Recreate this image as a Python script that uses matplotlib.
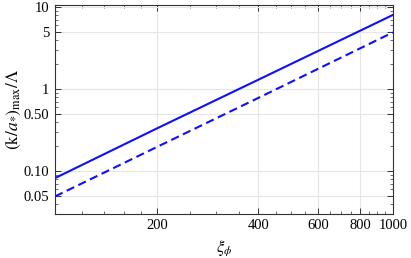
import matplotlib
matplotlib.use("Agg")
import matplotlib.pyplot as plt
from matplotlib.ticker import FixedLocator, FixedFormatter, LogLocator, NullFormatter

plt.rcParams['font.family'] = ['Liberation Serif', 'DejaVu Serif']
plt.rcParams['mathtext.fontset'] = 'stix'

# data
xi = [100, 200, 400, 1000]
k_solid = [0.082, 0.33, 1.3, 8.0]
k_dashed = [0.049, 0.196, 0.78, 4.9]

xticks = [200, 400, 600, 800, 1000]
yticks = [0.05, 0.1, 0.5, 1, 5, 10]
ylabels = ['0.05', '0.10', '0.50', '1', '5', '10']

fig = plt.figure(figsize=(4.11, 2.58), dpi=100)
ax = fig.add_axes([0.134, 0.171, 0.822, 0.81])

ax.plot(xi, k_solid, color='#0f0fff', lw=1.5)
ax.plot(xi, k_dashed, color='#0f0fff', lw=1.5, ls=(0, (4, 2.2)))

ax.set_xscale('log')
ax.set_yscale('log')
ax.set_xlim(100, 1000)
ax.set_ylim(0.03, 10.6)

ax.xaxis.set_major_locator(FixedLocator(xticks))
ax.xaxis.set_major_formatter(FixedFormatter([str(t) for t in xticks]))
ax.xaxis.set_minor_locator(FixedLocator([120, 140, 160, 180, 250, 300, 350, 450, 500, 550,
                                         650, 700, 750, 850, 900, 950]))
ax.xaxis.set_minor_formatter(NullFormatter())
ax.yaxis.set_major_locator(FixedLocator(yticks))
ax.yaxis.set_major_formatter(FixedFormatter(ylabels))
ax.yaxis.set_minor_locator(LogLocator(base=10, subs=[2, 3, 4, 6, 7, 8, 9]))
ax.yaxis.set_minor_formatter(NullFormatter())

ax.grid(True, which='major', color='#e6e6e6', lw=0.8)
ax.tick_params(which='both', direction='in', top=True, right=True, labelsize=10.5, colors='#333333',
               labelcolor='black', pad=4)
ax.tick_params(which='major', length=4, width=0.7)
ax.tick_params(which='minor', length=2, width=0.5)
for s in ax.spines.values():
    s.set_color('#333333')
    s.set_linewidth(0.8)

ax.set_xlabel(r'$\xi_\phi$', fontsize=12, labelpad=4)
ax.set_ylabel(r'$(\mathrm{k}/a_{*})_{\mathrm{max}}/\Lambda$', fontsize=12.5, labelpad=1)

fig.savefig('out.png', dpi=100)
